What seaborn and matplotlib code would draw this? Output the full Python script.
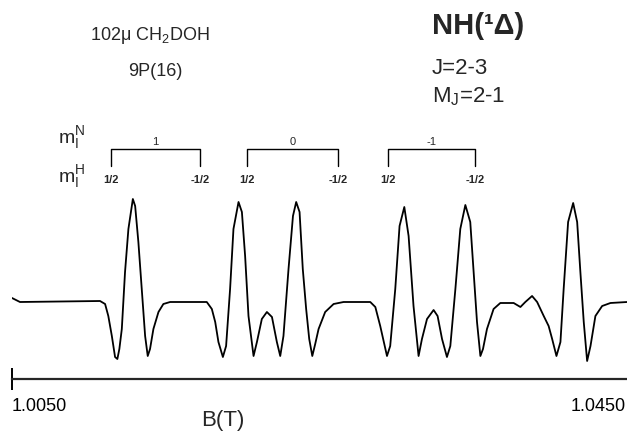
import numpy as np
import pandas as pd
import matplotlib
matplotlib.use("Agg")
import matplotlib.pyplot as plt
import matplotlib.transforms as mtransforms
import seaborn as sns

# traced spectrum: magnetic field (T) and signal (arb. units, baseline = 0)
field = [1.00500, 1.00552, 1.01074, 1.01107, 1.01128, 1.01151, 1.01172, 1.01187,
         1.01200, 1.01216, 1.01237, 1.01259, 1.01288, 1.01303, 1.01324, 1.01346,
         1.01368, 1.01385, 1.01400, 1.01422, 1.01455, 1.01487, 1.01531, 1.01770,
         1.01803, 1.01825, 1.01846, 1.01875, 1.01896, 1.01922, 1.01944, 1.01977,
         1.01999, 1.02020, 1.02042, 1.02075, 1.02097, 1.02129, 1.02162, 1.02195,
         1.02227, 1.02249, 1.02270, 1.02303, 1.02332, 1.02353, 1.02375, 1.02396,
         1.02418, 1.02438, 1.02458, 1.02477, 1.02499, 1.02542, 1.02597, 1.02662,
         1.02836, 1.02869, 1.02901, 1.02945, 1.02966, 1.02999, 1.03027, 1.03058,
         1.03086, 1.03118, 1.03151, 1.03173, 1.03206, 1.03249, 1.03275, 1.03304,
         1.03336, 1.03358, 1.03391, 1.03423, 1.03456, 1.03488, 1.03510, 1.03532,
         1.03554, 1.03571, 1.03597, 1.03640, 1.03684, 1.03771, 1.03815, 1.03847,
         1.03891, 1.03924, 1.03967, 1.03999, 1.04022, 1.04050, 1.04076, 1.04097,
         1.04126, 1.04159, 1.04185, 1.04206, 1.04228, 1.04250, 1.04272, 1.04304,
         1.04348, 1.04402, 1.04511]
signal = [0.04, 0.00, 0.01, -0.02, -0.14, -0.34, -0.55, -0.57,
          -0.47, -0.27, 0.30, 0.73, 1.03, 0.96, 0.60, 0.13,
          -0.34, -0.54, -0.47, -0.27, -0.10, -0.02, 0.00, 0.00,
          -0.07, -0.20, -0.40, -0.55, -0.44, 0.13, 0.73, 1.00,
          0.90, 0.46, -0.14, -0.54, -0.40, -0.17, -0.10, -0.15,
          -0.40, -0.54, -0.34, 0.33, 0.86, 1.00, 0.90, 0.33,
          -0.07, -0.37, -0.54, -0.42, -0.27, -0.10, -0.02, 0.00,
          0.00, -0.05, -0.24, -0.54, -0.44, 0.13, 0.76, 0.95,
          0.66, -0.04, -0.54, -0.37, -0.17, -0.08, -0.14, -0.37,
          -0.55, -0.44, 0.13, 0.73, 0.97, 0.80, 0.30, -0.20,
          -0.54, -0.47, -0.27, -0.07, -0.01, -0.01, -0.05, 0.00,
          0.06, 0.00, -0.14, -0.24, -0.37, -0.54, -0.40, 0.13,
          0.80, 0.99, 0.80, 0.30, -0.20, -0.59, -0.44, -0.14,
          -0.04, -0.01, 0.00]

# hyperfine assignment brackets
bracket_left = [1.01146, 1.02033, 1.02953]
bracket_right = [1.01727, 1.02627, 1.03521]
mN_labels = ["1", "0", "-1"]
mH_labels = ["1/2", "-1/2"]
tick_values = [1.0050, 1.0450]
tick_labels = ["1.0050", "1.0450"]

sns.set_style("white")
plt.rcParams["font.family"] = ["Liberation Sans", "DejaVu Sans"]

df = pd.DataFrame({"B": field, "S": signal})

fig = plt.figure(figsize=(6.27, 4.35), dpi=100)
ax = fig.add_axes([12 / 627, 55 / 435, 615 / 627, 190 / 435])
sns.lineplot(data=df, x="B", y="S", color="black", linewidth=1.3,
             estimator=None, ax=ax)

ax.set_xlim(1.0050, 1.0451)
ax.set_ylim(-0.77, 1.13)
for side in ["left", "right", "top"]:
    ax.spines[side].set_visible(False)
ax.spines["bottom"].set_linewidth(1.6)
ax.set_yticks([])
ax.set_xticks(tick_values)
ax.set_xticklabels(tick_labels, fontsize=13)
ax.tick_params(axis="x", bottom=True, direction="inout", length=16,
               width=1.4, pad=5, colors="black")
ax.xaxis.get_major_ticks()[1].tick1line.set_visible(False)
lbls = ax.get_xticklabels()
lbls[0].set_horizontalalignment("left")
lbls[1].set_horizontalalignment("right")
ax.set_xlabel("")
ax.set_ylabel("")

# brackets above the peaks
tr = mtransforms.blended_transform_factory(ax.transData, ax.transAxes)
for left, right, lab in zip(bracket_left, bracket_right, mN_labels):
    ax.plot([left, left, right, right], [1.121, 1.21, 1.21, 1.121],
            color="black", linewidth=1.0, transform=tr, clip_on=False)
    ax.text((left + right) / 2, 1.225, lab, transform=tr, ha="center",
            va="bottom", fontsize=8)
    ax.text(left, 1.053, mH_labels[0], transform=tr, ha="center",
            va="center", fontsize=8, fontweight="bold")
    ax.text(right, 1.053, mH_labels[1], transform=tr, ha="center",
            va="center", fontsize=8, fontweight="bold")

fig.text(72 / 627, 1 - 138 / 435, r"$\mathregular{m_I^N}$", ha="center",
         va="center", fontsize=14)
fig.text(72 / 627, 1 - 177 / 435, r"$\mathregular{m_I^H}$", ha="center",
         va="center", fontsize=14)

fig.text(150 / 627, 1 - 35 / 435, r"102$\mathregular{\mu}$ CH$_\mathregular{2}$DOH",
         ha="center", va="center", fontsize=13)
fig.text(155 / 627, 1 - 71 / 435, "9P(16)", ha="center", va="center", fontsize=13)
fig.text(432 / 627, 1 - 26 / 435, "NH(¹Δ)", ha="left", va="center",
         fontsize=21, fontweight="bold")
fig.text(432 / 627, 1 - 69 / 435, "J=2-3", ha="left", va="center", fontsize=16)
fig.text(432 / 627, 1 - 97 / 435, r"$\mathregular{M_J}$=2-1", ha="left",
         va="center", fontsize=16)
fig.text(223 / 627, 1 - 421 / 435, "B(T)", ha="center", va="center", fontsize=16)

fig.savefig("out.png", dpi=100)
